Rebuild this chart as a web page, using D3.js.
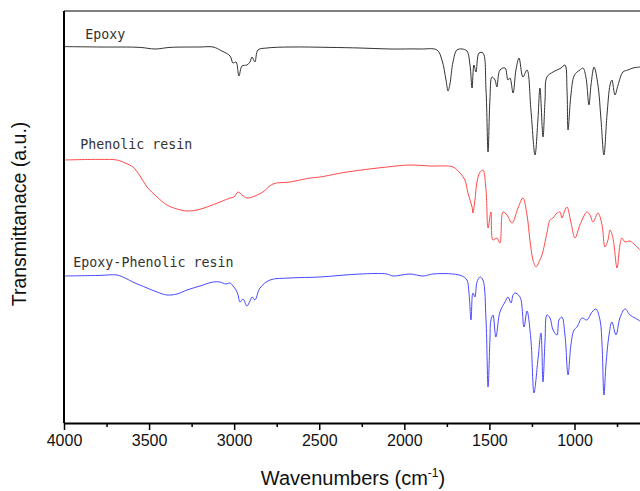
<!DOCTYPE html>
<html>
<head>
<meta charset="utf-8">
<script src="https://cdn.jsdelivr.net/npm/d3@7/dist/d3.min.js"></script>
<style>
  body { margin: 0; background: #fff; }
</style>
</head>
<body>
<script>
// FTIR spectra, wavenumber (cm-1) vs transmittance (a.u., stacked)
var majorTicks = [4000, 3500, 3000, 2500, 2000, 1500, 1000];
var minorTicks = [3750, 3250, 2750, 2250, 1750, 1250, 750];

var seriesNames = ["Epoxy", "Phenolic resin", "Epoxy-Phenolic resin"];
var seriesColors = ["#333333", "#ff4a4a", "#4a4aff"];

var epoxyWn = [4000,3788,3553,3465,3377,3201,3124,3072,3024,3007,2989,2972,2954,2925,2907,2895,2878,2860,2807,2672,2437,2261,2084,1908,1808,1779,1755,1743,1732,1714,1691,1661,1632,1614,1602,1591,1579,1561,1538,1520,1508,1497,1485,1467,1456,1438,1408,1391,1379,1361,1344,1326,1303,1279,1256,1232,1215,1203,1185,1173,1162,1126,1103,1079,1056,1044,1038,1021,1003,985,968,950,932,915,903,885,862,844,827,809,791,780,762,744,715,686,656,615];
var epoxyT = [94.1,94.0,93.9,93.5,93.9,94,94,93,91.75,90,90.25,86.75,89.25,89.5,90.25,91.5,90.25,93.25,93.75,94,93.9,93.75,93.5,93.5,93.25,90.75,85.75,83,84.75,90.25,93.25,93.5,93,89.5,83.75,89.5,87.75,92.5,92.5,83.25,67.75,80.75,86.5,85.75,84,88.25,88.75,85.75,86.25,82.5,88.25,91.25,86.5,88.25,78.25,67,75.75,83.75,71.5,80.75,86.5,87.75,88.25,88.75,89.5,83.25,73.25,82,86.75,87.75,88.25,88.75,86.25,79.5,84.5,89,84.5,75.75,67,77,84.5,85.75,82,84.5,87.75,88.25,88.75,89];

var phenolicWn = [4000,3788,3689,3641,3595,3553,3512,3453,3395,3336,3277,3218,3160,3083,3024,3001,2977,2954,2925,2878,2831,2772,2672,2554,2496,2337,2102,1967,1849,1714,1673,1644,1626,1602,1597,1585,1573,1555,1538,1520,1508,1491,1479,1456,1438,1420,1397,1367,1332,1303,1279,1262,1244,1226,1209,1191,1162,1144,1126,1103,1085,1074,1056,1044,1021,997,968,927,909,891,862,838,821,803,791,774,750,733,721,703,674,644,615];
var phenolicT = [65.75,65.9,65.75,65,64,61.75,59,56.5,54.5,53.5,53,53.25,54,55.25,56.25,56.5,57.75,57,56.25,56.75,57.75,59.75,60.25,61.25,61.5,62.75,64,64.5,64.25,64,62.5,60.75,57.5,54,52.5,55.75,60.25,62.75,63.25,58.25,48.75,52.75,45.75,46.25,45,52.75,52,50,53.75,56.25,52,45.75,40.75,39,40.25,42,47.5,50.75,51.25,52.5,52.75,51.25,53.25,54,50.25,46.25,49.5,52.75,52,50.25,52.5,49.5,44,45.75,48.25,46.25,38.75,44.5,46.25,45.25,45.5,44.5,43.25];

var blendWn = [4000,3788,3689,3641,3595,3512,3453,3395,3336,3277,3201,3124,3083,3048,3024,3007,2989,2977,2966,2948,2925,2907,2895,2878,2848,2789,2672,2496,2261,2102,2067,1967,1890,1832,1714,1661,1632,1620,1608,1597,1585,1573,1555,1538,1520,1508,1497,1491,1479,1462,1438,1408,1391,1373,1361,1350,1320,1297,1279,1256,1238,1215,1197,1185,1173,1162,1144,1126,1103,1091,1074,1056,1038,1021,1003,985,956,927,897,874,850,838,827,815,797,780,756,733,703,674,644,615];
var blendT = [36.75,36.9,37,36.25,35.25,33.75,32.75,32,32.25,33.25,34.25,35.25,35.25,34.75,35,34.25,33.25,32,30.25,31,29.25,30.5,31.5,30.75,33.75,35.75,36.25,36.5,37.25,37.25,36.75,37.25,36.75,37.25,37.25,36.75,35.75,32.5,25.75,32.5,31.5,35.25,36.5,35.75,25.75,9,20.75,25.75,27,21.5,27.75,30.25,31.5,30,32,32.5,31.5,24,28,20.75,7.5,15.75,22.5,10.25,20.75,27,26.25,23.25,22,25.75,26.5,22,12,19.5,23.25,24,26.25,25.75,27.75,28.5,25.75,19.5,7,14.5,22,25.25,22,26.25,28.5,27,26.25,25.5];

// label positions in data units (wavenumber, transmittance)
var labelWn = [3875, 3905, 3945];
var labelT = [96, 68.5, 39];

var width = 640, height = 491;
var plotLeft = 64, plotRight = 640, plotTop = 11, plotBottom = 423;

var svg = d3.select("body").append("svg")
	.attr("width", width)
	.attr("height", height)
	.style("display", "block");

var x = d3.scaleLinear().domain([4000, 615]).range([plotLeft, plotRight]);
var y = d3.scaleLinear().domain([0, 103]).range([plotBottom, plotTop]);

svg.append("defs").append("clipPath").attr("id", "plotclip")
	.append("rect")
	.attr("x", plotLeft).attr("y", plotTop)
	.attr("width", plotRight - plotLeft).attr("height", plotBottom - plotTop);

var series = [
	{ wn: epoxyWn, t: epoxyT },
	{ wn: phenolicWn, t: phenolicT },
	{ wn: blendWn, t: blendT }
];

var line = d3.line()
	.curve(d3.curveCatmullRom.alpha(0.5))
	.x(function(d) { return x(d[0]); })
	.y(function(d) { return y(d[1]); });

var plot = svg.append("g").attr("clip-path", "url(#plotclip)");

series.forEach(function(s, i) {
	var pts = d3.zip(s.wn, s.t);
	plot.append("path")
		.datum(pts)
		.attr("d", line)
		.attr("fill", "none")
		.attr("stroke", seriesColors[i])
		.attr("stroke-width", 1)
		.attr("stroke-linejoin", "round");
});

// series labels
svg.selectAll("text.series")
	.data(seriesNames)
	.enter().append("text")
	.attr("class", "series")
	.attr("x", function(d, i) { return x(labelWn[i]); })
	.attr("y", function(d, i) { return y(labelT[i]); })
	.style("font-family", "'DejaVu Sans Mono', monospace")
	.style("font-size", "13.3px")
	.style("fill", "#333")
	.text(function(d) { return d; });

// top frame line
svg.append("line")
	.attr("x1", plotLeft).attr("x2", plotRight)
	.attr("y1", plotTop).attr("y2", plotTop)
	.attr("stroke", "#555").attr("stroke-width", 1.5);

// left axis line
svg.append("line")
	.attr("x1", plotLeft).attr("x2", plotLeft)
	.attr("y1", plotTop).attr("y2", plotBottom)
	.attr("stroke", "#000").attr("stroke-width", 2);

// bottom axis
var xAxis = d3.axisBottom(x)
	.tickValues(majorTicks)
	.tickFormat(d3.format("d"))
	.tickSize(7)
	.tickSizeOuter(0)
	.tickPadding(5);

var gx = svg.append("g")
	.attr("transform", "translate(0," + plotBottom + ")")
	.call(xAxis);
gx.select(".domain").attr("stroke-width", 2);
gx.selectAll(".tick line").attr("stroke-width", 1.5);
gx.selectAll(".tick text")
	.style("font-family", "'Liberation Sans', Arial, sans-serif")
	.style("font-size", "16px")
	.style("fill", "#111");

var xMinor = d3.axisBottom(x)
	.tickValues(minorTicks)
	.tickSize(4)
	.tickSizeOuter(0)
	.tickFormat("");
var gm = svg.append("g")
	.attr("transform", "translate(0," + plotBottom + ")")
	.call(xMinor);
gm.select(".domain").remove();
gm.selectAll(".tick line").attr("stroke-width", 1.5);

// axis titles
var xTitle = svg.append("text")
	.attr("x", 353)
	.attr("y", 485)
	.attr("text-anchor", "middle")
	.style("font-family", "'Liberation Sans', Arial, sans-serif")
	.style("font-size", "20px")
	.style("fill", "#111");
xTitle.append("tspan").text("Wavenumbers (cm");
xTitle.append("tspan").attr("dy", -8).style("font-size", "12px").text("-1");
xTitle.append("tspan").attr("dy", 8).text(")");

svg.append("text")
	.attr("transform", "translate(26,214) rotate(-90)")
	.attr("text-anchor", "middle")
	.style("font-family", "'Liberation Sans', Arial, sans-serif")
	.style("font-size", "19.5px")
	.style("fill", "#111")
	.text("Transmittanace (a.u.)");
</script>
</body>
</html>
